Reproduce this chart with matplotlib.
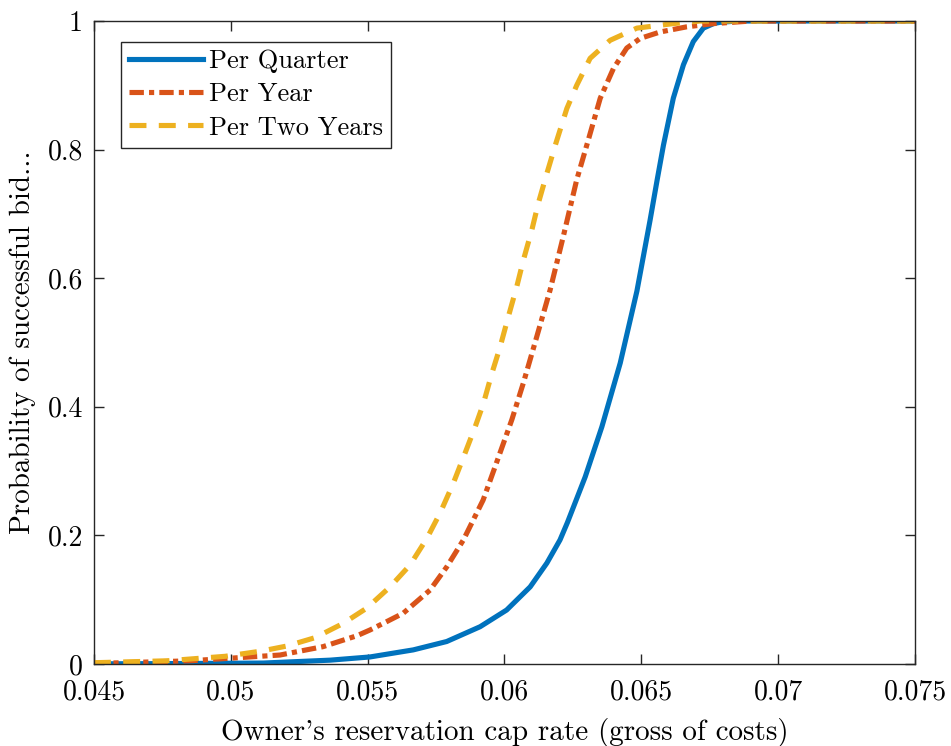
import matplotlib
matplotlib.use('Agg')
import matplotlib.pyplot as plt
from matplotlib.ticker import FuncFormatter

# Computer Modern look, like the MATLAB/LaTeX export
plt.rcParams['font.family'] = 'serif'
plt.rcParams['font.serif'] = ['cmr10']
plt.rcParams['mathtext.fontset'] = 'cm'
plt.rcParams['axes.formatter.use_mathtext'] = True

# data
x_quarter = [0.045, 0.0475, 0.05119, 0.05363, 0.05509, 0.05667, 0.05789, 0.05911, 0.06008,
             0.06094, 0.06155, 0.06203, 0.0623, 0.06295, 0.06356, 0.06423, 0.06484, 0.06532,
             0.06558, 0.06581, 0.06617, 0.06654, 0.0669, 0.06727, 0.06764, 0.06788, 0.0685,
             0.075]
y_quarter = [0.0003, 0.0006, 0.0015, 0.006, 0.011, 0.022, 0.035, 0.058, 0.084,
             0.120, 0.157, 0.193, 0.22, 0.291, 0.369, 0.468, 0.58, 0.69,
             0.753, 0.807, 0.88, 0.932, 0.968, 0.989, 0.996, 0.998, 1.0,
             1.0]

x_year = [0.045, 0.04606, 0.04851, 0.04997, 0.0518, 0.05337, 0.05461, 0.05509, 0.0557,
          0.0563, 0.05728, 0.05789, 0.0585, 0.05922, 0.0596, 0.06027, 0.06069, 0.06118,
          0.06167, 0.06215, 0.06264, 0.06307, 0.0635, 0.06398, 0.06447, 0.06496, 0.06569,
          0.06666, 0.06764, 0.069, 0.075]
y_year = [0.001, 0.002, 0.005, 0.009, 0.014, 0.027, 0.044, 0.053, 0.066,
          0.079, 0.115, 0.151, 0.193, 0.255, 0.30, 0.38, 0.437, 0.509,
          0.582, 0.665, 0.753, 0.816, 0.88, 0.926, 0.958, 0.973, 0.983,
          0.991, 0.996, 1.0, 1.0]

x_two = [0.045, 0.04767, 0.0498, 0.0511, 0.05205, 0.05308, 0.0541, 0.05497, 0.05582,
         0.05655, 0.05716, 0.05765, 0.05812, 0.05856, 0.05893, 0.05923, 0.05954, 0.05984,
         0.06014, 0.06045, 0.06069, 0.061, 0.06124, 0.06155, 0.06188, 0.06228, 0.06264,
         0.06313, 0.06386, 0.06484, 0.06617, 0.06714, 0.075]
y_two = [0.002, 0.005, 0.012, 0.02, 0.028, 0.041, 0.063, 0.087, 0.12,
         0.154, 0.195, 0.235, 0.28, 0.328, 0.369, 0.405, 0.452, 0.493,
         0.54, 0.587, 0.628, 0.675, 0.717, 0.763, 0.81, 0.864, 0.9,
         0.942, 0.97, 0.989, 0.996, 1.0, 1.0]

x_ticks = [0.045, 0.05, 0.055, 0.06, 0.065, 0.07, 0.075]
y_ticks = [0, 0.2, 0.4, 0.6, 0.8, 1]

fig = plt.figure(figsize=(9.51, 7.46), dpi=100)
ax = fig.add_axes([0.0988, 0.1099, 0.8633, 0.8619])

ax.plot(x_quarter, y_quarter, color='#0072BD', lw=3.7, label='Per Quarter')
ax.plot(x_year, y_year, color='#D95319', lw=3.7, dashes=(2.8, 1.0, 1.0, 1.0),
        label='Per Year')
ax.plot(x_two, y_two, color='#EDB120', lw=3.7, dashes=(3.3, 2.4), label='Per Two Years')

ax.set_xlim(0.045, 0.075)
ax.set_ylim(0, 1)
ax.set_xticks(x_ticks)
ax.set_yticks(y_ticks)
fmt = FuncFormatter(lambda v, p: '%g' % v)
ax.xaxis.set_major_formatter(fmt)
ax.yaxis.set_major_formatter(fmt)

ax.tick_params(direction='in', length=7, width=1, top=True, right=True,
               labelsize=20, colors='#262626', labelcolor='black')
ax.tick_params(axis='x', pad=11)
ax.tick_params(axis='y', pad=8)
for s in ax.spines.values():
    s.set_color('#262626')
    s.set_linewidth(1)

ax.set_xlabel("Owner's reservation cap rate (gross of costs)", fontsize=21, labelpad=9)
ax.set_ylabel('Probability of successful bid...', fontsize=21, labelpad=8)

leg = ax.legend(loc='upper left', bbox_to_anchor=(0.033, 0.968), fontsize=19,
                fancybox=False, edgecolor='#262626', framealpha=1,
                handlelength=2.8, handletextpad=0.25, borderpad=0.3,
                labelspacing=0.36, borderaxespad=0)
leg.get_frame().set_linewidth(1)

fig.savefig('out.png', dpi=100)
